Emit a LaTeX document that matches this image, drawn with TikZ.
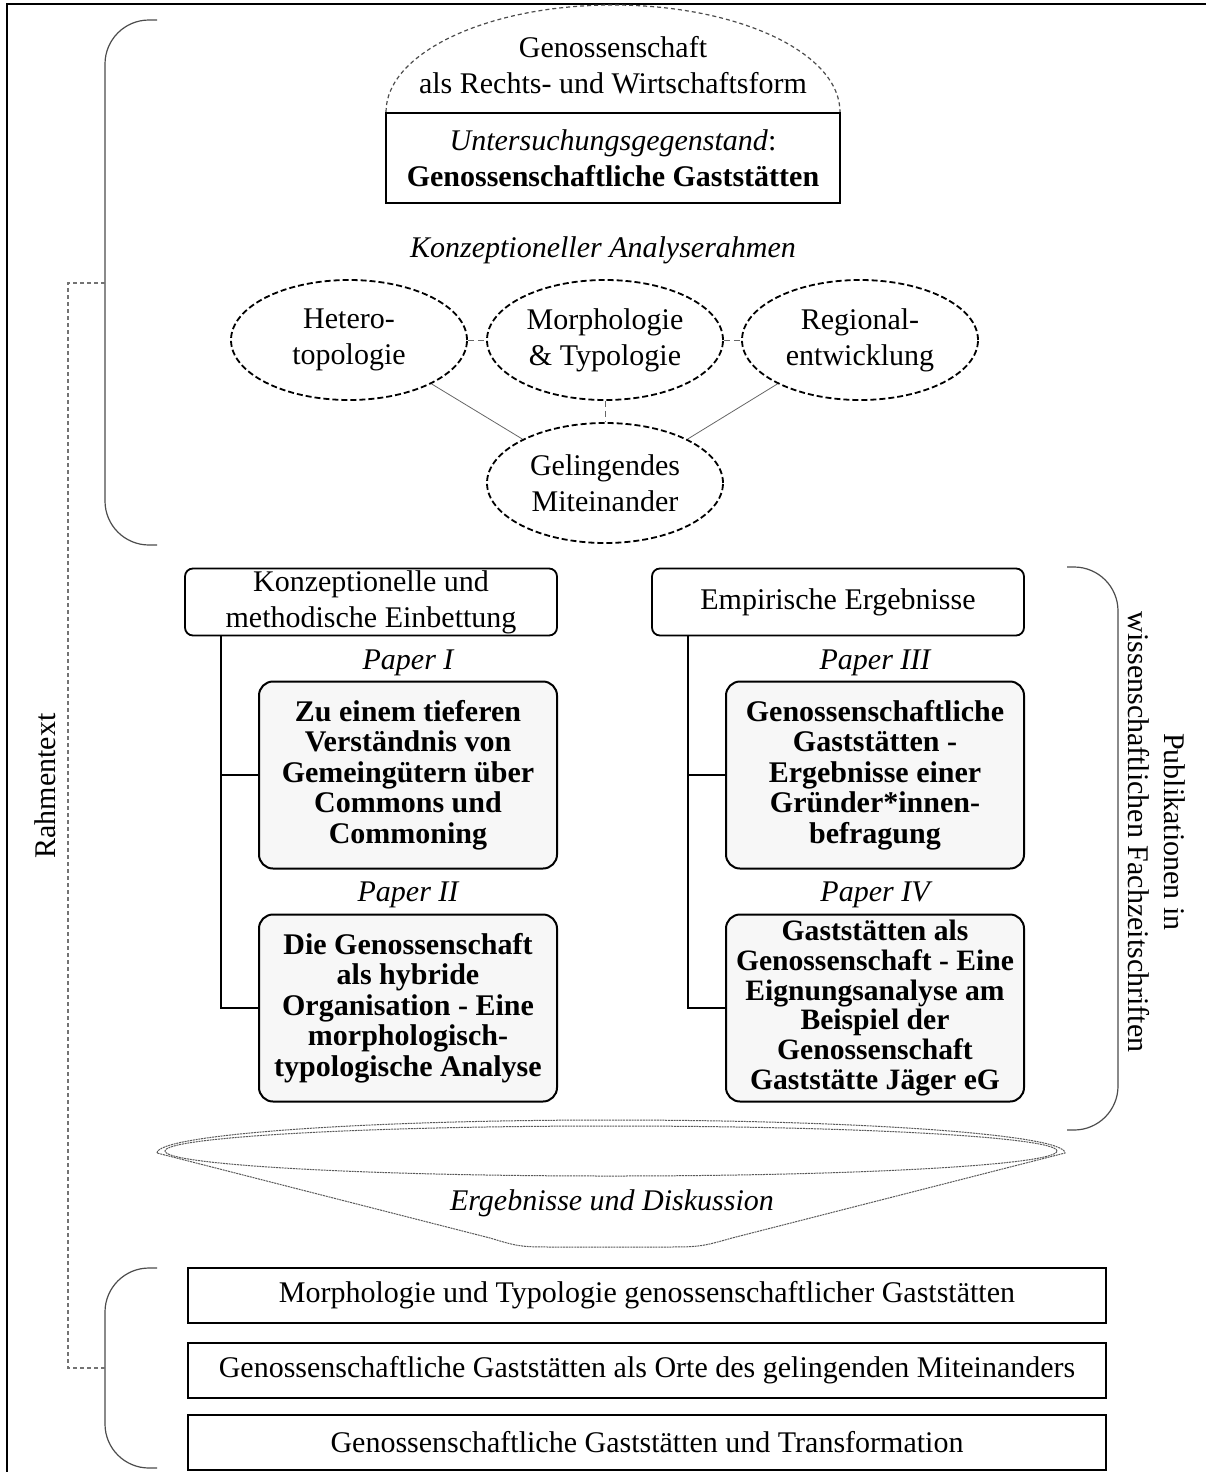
\documentclass[tikz,border=0pt]{standalone}
\usepackage{fontspec}
\setmainfont{Liberation Serif}
\usetikzlibrary{shapes.geometric}

\begin{document}
\begin{tikzpicture}[
    x=0.5pt, y=-0.5pt,
    txt/.style={font=\fontsize{15}{18}\selectfont, align=center, inner sep=0pt},
    lbl/.style={txt, font=\fontsize{15}{18}\selectfont\itshape},
    plainbox/.style={txt, draw, line width=1pt, minimum width=227pt, minimum height=45pt},
    headbox/.style={txt, draw, line width=0.9pt, rounded corners=4pt,
        minimum width=186pt, minimum height=33.5pt},
    paperbox/.style={txt, font=\fontsize{15}{15.2}\selectfont\bfseries, draw,
        fill=black!3, line width=1pt, rounded corners=7pt,
        minimum width=149pt, minimum height=93.5pt},
    topic/.style={txt, draw, line width=1pt, minimum width=459pt, minimum height=27.5pt},
    field/.style={txt, ellipse, draw, line width=0.9pt, dash pattern=on 3pt off 1.5pt,
        minimum width=118pt, minimum height=60pt},
    tie/.style={black!60, line width=0.4pt},
    shorttie/.style={tie, densely dashed},
    treeline/.style={line width=0.9pt},
    brace/.style={black!70, line width=0.6pt, rounded corners=22pt},
    dashline/.style={black!55, line width=0.6pt, dash pattern=on 2pt off 1.5pt},
    lens/.style={black!65, line width=0.5pt, dash pattern=on 1pt off 0.4pt},
]
\useasboundingbox (0,0) rectangle (1206,1472);

% frame (left and top only)
\draw[line width=1pt] (7,1472) -- (7,4) -- (1206,4);

% object of study under the dome
\draw[dashline, black!70] (386,112)
    arc[start angle=180, end angle=0, x radius=113.5pt, y radius=53.5pt];
\node[txt] (form) at (613,65) {Genossenschaft\\als Rechts- und Wirtschaftsform};
\node[plainbox] (gegenstand) at (613,158)
    {\textit{Untersuchungsgegenstand}:\\\textbf{Genossenschaftliche Gaststätten}};

% conceptual frame
\node[lbl] (rahmen) at (603,250) {Konzeptioneller Analyserahmen};
\node[field] (hetero) at (349,340) {Hetero-\\topologie};
\node[field] (morph) at (605,340) {Morphologie\\\& Typologie};
\node[field] (regio) at (860,340) {Regional-\\entwicklung};
\node[field] (geling) at (605,483) {Gelingendes\\Miteinander};

\draw[shorttie] (hetero) -- (morph);
\draw[shorttie] (morph) -- (regio);
\draw[shorttie] (morph) -- (geling);
\draw[tie] (hetero.-28) -- (geling.152);
\draw[tie] (regio.-152) -- (geling.28);

% braces and link on the left
\draw[brace] (157,20) -- (105,20) -- (105,545) -- (157,545);
\draw[brace] (157,1268) -- (105,1268) -- (105,1468) -- (157,1468);
\coordinate (topmid) at (105,283);
\coordinate (botmid) at (105,1368);
\coordinate (rleft) at (68,283);
\draw[dashline] (topmid) -- (rleft) |- (botmid);
\node[txt, rotate=90] (rahmentext) at (45,786) {Rahmentext};

% left column: papers I and II
\node[headbox] (konz) at (371,602) {Konzeptionelle und\\methodische Einbettung};
\node[lbl] (p1lbl) at (408,663) {Paper I};
\node[paperbox] (paper1) at (408,775)
    {Zu einem tieferen\\Verständnis von\\Gemeingütern über\\Commons und\\Commoning};
\node[lbl] (p2lbl) at (408,895) {Paper II};
\node[paperbox] (paper2) at (408,1008)
    {Die Genossenschaft\\als hybride\\Organisation - Eine\\morphologisch-\\typologische Analyse};
\coordinate (ltrunk) at ([xshift=18.5pt]konz.south west);
\draw[treeline] (ltrunk) |- (paper2.west);
\draw[treeline] (paper1.west) -- (paper1.west -| ltrunk);

% right column: papers III and IV
\node[headbox] (empir) at (838,602) {Empirische Ergebnisse};
\node[lbl] (p3lbl) at (875,663) {Paper III};
\node[paperbox] (paper3) at (875,775)
    {Genossenschaftliche\\Gaststätten -\\Ergebnisse einer\\Gründer*innen-\\befragung};
\node[lbl] (p4lbl) at (875,895) {Paper IV};
\node[paperbox, font=\fontsize{14.8}{14.9}\selectfont\bfseries] (paper4) at (875,1008)
    {Gaststätten als\\Genossenschaft - Eine\\Eignungsanalyse am\\Beispiel der\\Genossenschaft\\Gaststätte Jäger eG};
\coordinate (rtrunk) at ([xshift=18.5pt]empir.south west);
\draw[treeline] (rtrunk) |- (paper4.west);
\draw[treeline] (paper3.west) -- (paper3.west -| rtrunk);

% brace on the right
\draw[brace] (1067,567) -- (1118,567) -- (1118,1130) -- (1067,1130);
\node[txt, rotate=-90] (publik) at (1157,832)
    {Publikationen in\\wissenschaftlichen Fachzeitschriften};

% results lens
\draw[lens] (157,1153) arc[start angle=180, end angle=0, x radius=227pt, y radius=16.5pt]
    -- (732,1238) .. controls (700,1247) .. (660,1247) -- (560,1247)
    .. controls (520,1247) .. (490,1238) -- cycle;
\draw[lens] (611,1151) ellipse[x radius=223pt, y radius=12.5pt];
\node[lbl] (ergeb) at (612,1203) {Ergebnisse und Diskussion};

% findings
\node[topic] (typo) at (647,1295.5)
    {Morphologie und Typologie genossenschaftlicher Gaststätten};
\node[topic] (orte) at (647,1370)
    {Genossenschaftliche Gaststätten als Orte des gelingenden Miteinanders};
\node[topic] (trans) at (647,1442)
    {Genossenschaftliche Gaststätten und Transformation};

\end{tikzpicture}
\end{document}
